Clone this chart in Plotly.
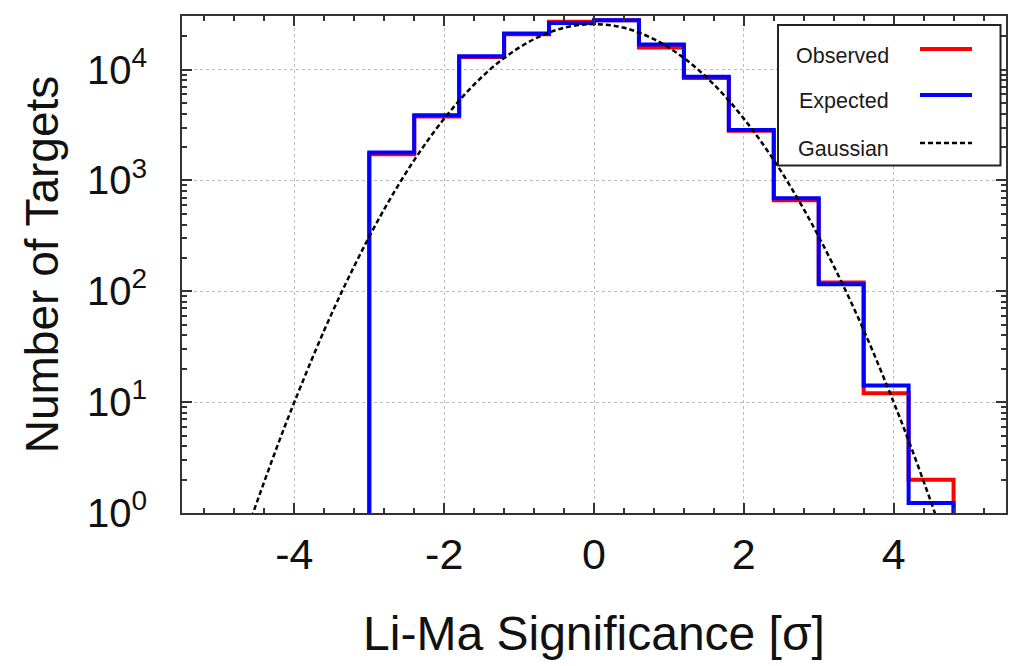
import plotly.graph_objects as go

# ---- data ----
bin_edges = [-3.0, -2.4, -1.8, -1.2, -0.6, 0.0, 0.6, 1.2, 1.8, 2.4, 3.0, 3.6, 4.2, 4.8]
observed = [1720, 3780, 13000, 20800, 27000, 27800, 15800, 8400, 2800, 664, 120, 12.0, 2.0]
expected = [1790, 3870, 13200, 21100, 26300, 27800, 16800, 8600, 2850, 689, 116, 14.1, 1.23]

gauss_x = [-4.8, -4.6, -4.4, -4.2, -4.0, -3.6, -3.2, -2.8, -2.4, -2.0, -1.6, -1.2, -0.8, -0.4, 0.0,
           0.4, 0.8, 1.2, 1.6, 2.0, 2.4, 2.8, 3.2, 3.6, 4.0, 4.2, 4.4, 4.6, 4.8]
gauss_y = [0.30, 0.80, 1.93, 4.5, 10.0, 44.7, 169, 550, 1525, 3610, 7330, 12700, 18800, 23800, 25700,
           23800, 18800, 12700, 7330, 3610, 1525, 550, 169, 44.7, 10.0, 4.5, 1.93, 0.80, 0.30]

legend_labels = ["Observed", "Expected", "Gaussian"]
y_tickvals = [1, 10, 100, 1000, 10000]
y_ticktext = ["10<sup>0</sup>", "10<sup>1</sup>", "10<sup>2</sup>", "10<sup>3</sup>", "10<sup>4</sup>"]
x_tickvals = [-4, -2, 0, 2, 4]
x_ticktext = ["-4", "-2", "0", "2", "4"]

FLOOR = 0.1  # histogram base (below the visible range)


def step_xy(edges, counts):
    xs = [edges[0]] + list(edges) + [edges[-1]]
    ys = [FLOOR] + list(counts) + [counts[-1], FLOOR]
    return xs, ys


# minor log ticks 2..9 in each decade
y_minor = [m * 10 ** d for d in range(0, 5) for m in range(2, 10)]

FONT = "Liberation Sans, Arial, Helvetica, sans-serif"
RED = "#ff0000"
BLUE = "#0000ff"
GDASH = "5px,3px"

fig = go.Figure()
ox, oy = step_xy(bin_edges, observed)
ex, ey = step_xy(bin_edges, expected)
fig.add_trace(go.Scatter(x=ox, y=oy, mode="lines", line=dict(color=RED, width=4, shape="hv"),
                         name=legend_labels[0], showlegend=False))
fig.add_trace(go.Scatter(x=ex, y=ey, mode="lines", line=dict(color=BLUE, width=4, shape="hv"),
                         name=legend_labels[1], showlegend=False))
fig.add_trace(go.Scatter(x=gauss_x, y=gauss_y, mode="lines",
                         line=dict(color="black", width=2.5, dash=GDASH, shape="spline"),
                         name=legend_labels[2], showlegend=False))

L, R, T, B = 182, 1006, 16, 513


def px2x(px):
    return (px - L) / (R - L)


def py2y(py):
    return (B - py) / (B - T)


shapes = [dict(type="rect", xref="paper", yref="paper", x0=px2x(778), x1=px2x(1000.5),
               y0=py2y(165.5), y1=py2y(25), fillcolor="white",
               line=dict(color="#222222", width=2), layer="above")]
sample_styles = [dict(color=RED, width=4), dict(color=BLUE, width=4),
                 dict(color="black", width=2.5, dash=GDASH)]
sample_y = [49, 95, 143]
text_y = [56, 101, 149]
annotations = []
for lab, st, sy, ty in zip(legend_labels, sample_styles, sample_y, text_y):
    shapes.append(dict(type="line", xref="paper", yref="paper", x0=px2x(920), x1=px2x(972),
                       y0=py2y(sy), y1=py2y(sy), line=st, layer="above"))
    annotations.append(dict(xref="paper", yref="paper", x=px2x(891), y=py2y(ty), text=lab,
                            showarrow=False, xanchor="right", yanchor="middle",
                            font=dict(family=FONT, size=21.5, color="#1a1a1a")))

axis_common = dict(showline=True, linecolor="#333333", linewidth=2, mirror="ticks",
                   ticks="inside", ticklen=10, tickwidth=1.5, tickcolor="#333333",
                   showgrid=True, gridcolor="#bbbbbb", griddash="dot", gridwidth=1,
                   zeroline=False, automargin=False)

fig.update_layout(
    width=1012, height=666,
    margin=dict(l=L, r=1012 - R, t=T, b=666 - B),
    paper_bgcolor="white", plot_bgcolor="white",
    shapes=shapes, annotations=annotations,
    xaxis=dict(range=[-5.5, 5.5], tickvals=x_tickvals, ticktext=x_ticktext,
               minor=dict(dtick=0.4, tick0=0, ticks="inside", ticklen=5, tickcolor="#333333", showgrid=False),
               ticklabelstandoff=2,
               tickfont=dict(family=FONT, size=43, color="#111111"),
               title=dict(text="Li-Ma Significance [σ]", standoff=40,
                          font=dict(family=FONT, size=48, color="#111111")),
               **axis_common),
    yaxis=dict(type="log", range=[0, 4.483], tickvals=y_tickvals, ticktext=y_ticktext,
               minor=dict(tickvals=y_minor, ticks="inside", ticklen=5, tickcolor="#333333", showgrid=False),
               ticklabelstandoff=25,
               tickfont=dict(family=FONT, size=40, color="#111111"),
               title=dict(text="Number of Targets", standoff=14,
                          font=dict(family=FONT, size=46, color="#111111")),
               **axis_common),
)

fig.write_html("out.html", config={"displayModeBar": False},
               post_script="document.body.style.margin='0';document.body.style.padding='0';")
